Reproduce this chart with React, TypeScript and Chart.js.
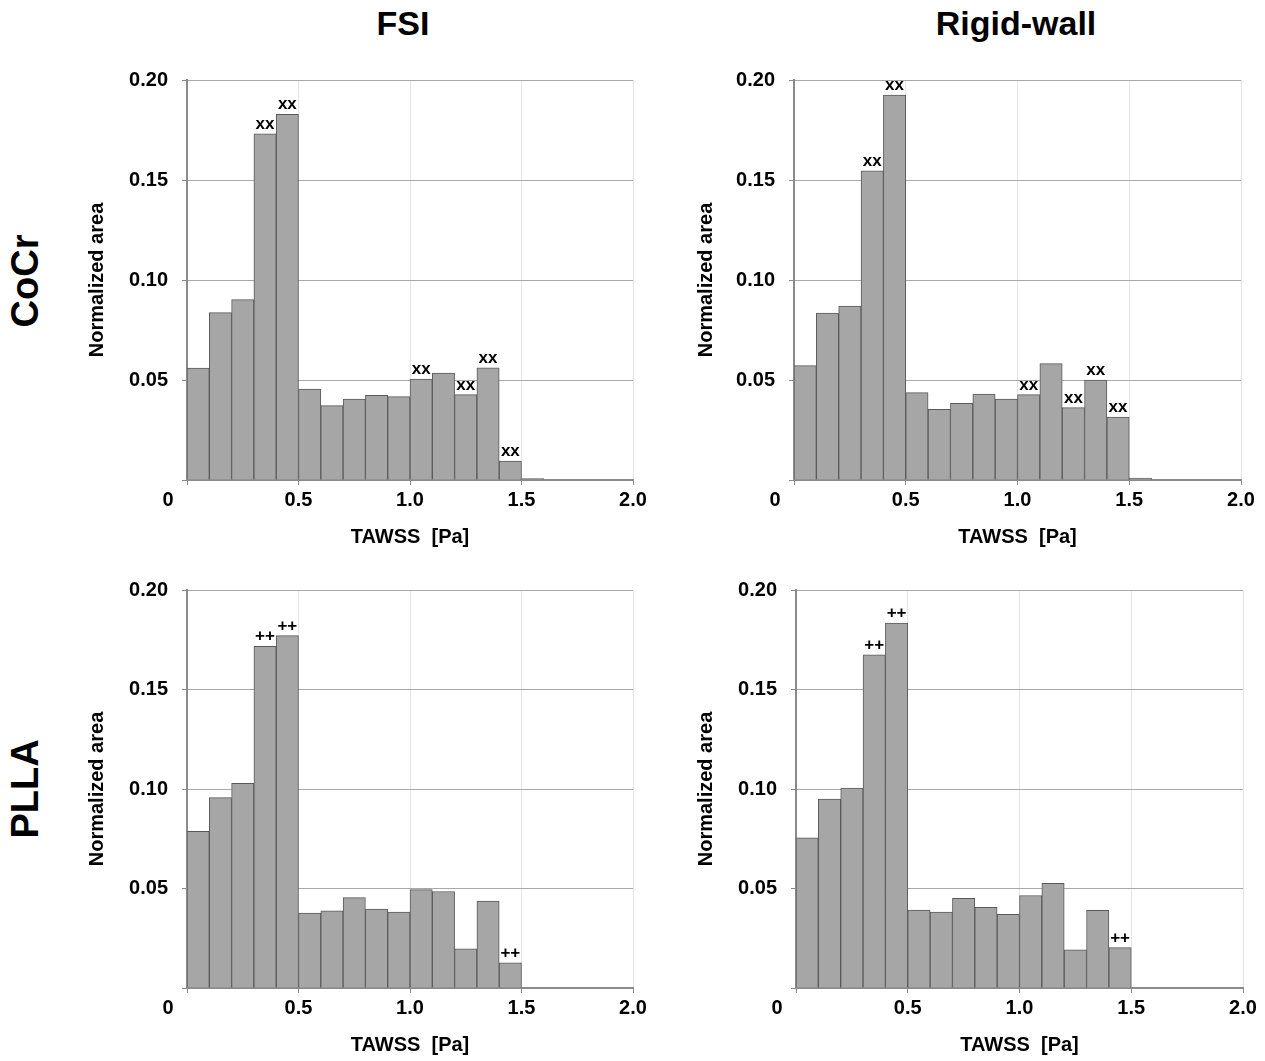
import React, { useEffect, useRef } from "react";
import { Chart, registerables } from "chart.js";

Chart.register(...registerables);

const FONT = '"Liberation Sans", Arial, Helvetica, sans-serif';
Chart.defaults.font.family = FONT;

// ---- data ----
const BIN_CENTERS = [0.05, 0.15, 0.25, 0.35, 0.45, 0.55, 0.65, 0.75, 0.85, 0.95, 1.05, 1.15, 1.25, 1.35, 1.45, 1.55, 1.65, 1.75, 1.85, 1.95];

const FSI_COCR = [0.0559, 0.0837, 0.0902, 0.1731, 0.1828, 0.0455, 0.0372, 0.0405, 0.0423, 0.0417, 0.0505, 0.0534, 0.0427, 0.0561, 0.0095, 0.0007, 0, 0, 0, 0];
const RIGID_COCR = [0.0572, 0.0835, 0.087, 0.1546, 0.1925, 0.0437, 0.0353, 0.0383, 0.043, 0.0405, 0.0427, 0.0582, 0.0362, 0.05, 0.0315, 0.001, 0, 0, 0, 0];
const FSI_PLLA = [0.0787, 0.0957, 0.1029, 0.1717, 0.1771, 0.0377, 0.0388, 0.0454, 0.0397, 0.0382, 0.0494, 0.0485, 0.0197, 0.0437, 0.0126, 0, 0, 0, 0, 0];
const RIGID_PLLA = [0.0755, 0.0949, 0.1004, 0.1674, 0.1834, 0.0392, 0.0382, 0.045, 0.0405, 0.037, 0.0465, 0.0526, 0.0192, 0.039, 0.0203, 0, 0, 0, 0, 0];

// indices of bars carrying a significance mark
const MARKS_FSI_COCR = [3, 4, 10, 12, 13, 14];
const MARKS_RIGID_COCR = [3, 4, 10, 12, 13, 14];
const MARKS_FSI_PLLA = [3, 4, 14];
const MARKS_RIGID_PLLA = [3, 4, 14];

const X_TICKS = [0, 0.5, 1.0, 1.5, 2.0];
const X_TICK_LABELS = ["0", "0.5", "1.0", "1.5", "2.0"];
const Y_TICKS = [0, 0.05, 0.1, 0.15, 0.2];
const Y_TICK_LABELS = ["", "0.05", "0.10", "0.15", "0.20"];

const COL_TITLES = ["FSI", "Rigid-wall"];
const ROW_TITLES = ["CoCr", "PLLA"];
const X_TITLE = "TAWSS  [Pa]";
const Y_TITLE = "Normalized area";

// ---- layout ----
type Geom = { axisX: number; right: number; top: number; bottom: number; yTitleX: number; xTitleY: number };

const G_TL: Geom = { axisX: 187, right: 633, top: 80, bottom: 480, yTitleX: 97, xTitleY: 537 };
const G_TR: Geom = { axisX: 794, right: 1241, top: 80, bottom: 480, yTitleX: 706, xTitleY: 537 };
const G_BL: Geom = { axisX: 187, right: 633, top: 590, bottom: 988, yTitleX: 97, xTitleY: 1045 };
const G_BR: Geom = { axisX: 796, right: 1243, top: 590, bottom: 988, yTitleX: 706, xTitleY: 1045 };

function Panel({ g, values, marks, symbol }: { g: Geom; values: number[]; marks: number[]; symbol: string }) {
  const ref = useRef<HTMLCanvasElement | null>(null);

  const canvasLeft = g.axisX - 110;
  const canvasTop = g.top - 30;
  const padRight = 22;
  const canvasW = g.right + padRight - canvasLeft;
  const canvasH = g.xTitleY + 12 + 6 - canvasTop;
  const padLeft = g.yTitleX - 12 - canvasLeft;
  const yWidth = g.axisX - canvasLeft - padLeft;
  const xHeight = g.xTitleY + 12 - g.bottom;

  useEffect(() => {
    if (!ref.current) return;
    const overlay = {
      id: "overlay",
      afterDatasetsDraw(chart: any) {
        const ctx = chart.ctx;
        const meta = chart.getDatasetMeta(0);
        ctx.save();
        ctx.fillStyle = "#000";
        ctx.textAlign = "center";
        ctx.textBaseline = "alphabetic";
        ctx.font = `bold 17px ${FONT}`;
        marks.forEach((i) => {
          const el = meta.data[i];
          if (el) ctx.fillText(symbol, el.x, el.y - 5);
        });
        const xs = chart.scales.x;
        ctx.font = `bold 20px ${FONT}`;
        ctx.textBaseline = "middle";
        ctx.fillText(X_TICK_LABELS[0], xs.getPixelForValue(X_TICKS[0]) - 19, xs.top + 5 + 3 + 12);
        ctx.restore();
      },
    };

    const chart = new Chart(ref.current, {
      type: "bar",
      data: {
        datasets: [
          {
            data: BIN_CENTERS.map((x, i) => ({ x, y: values[i] })),
            backgroundColor: "#a6a6a6",
            borderColor: "#5a5a5a",
            borderWidth: 1,
            barPercentage: 1,
            categoryPercentage: 1,
          },
        ],
      },
      options: {
        responsive: false,
        animation: false,
        devicePixelRatio: 1,
        layout: { padding: { left: padLeft, top: 30, right: padRight, bottom: 6 } },
        plugins: { legend: { display: false }, tooltip: { enabled: false } },
        scales: {
          x: {
            type: "linear",
            min: 0,
            max: 2,
            offset: false,
            afterBuildTicks: (s: any) => {
              s.ticks = X_TICKS.map((v) => ({ value: v }));
            },
            afterFit: (s: any) => {
              s.height = xHeight;
            },
            ticks: {
              autoSkip: false,
              maxRotation: 0,
              padding: 3,
              color: "#000",
              font: { size: 20, weight: "bold", lineHeight: 1.2 },
              callback: (_v: any, i: number) => (i === 0 ? "" : X_TICK_LABELS[i]),
            },
            grid: { offset: false, color: "#e4e4e4", tickColor: "#8a8a8a", tickLength: 5, lineWidth: 1 },
            border: { display: true, color: "#8a8a8a", width: 2 },
            title: {
              display: true,
              text: X_TITLE,
              color: "#000",
              padding: 0,
              font: { size: 20, weight: "bold", lineHeight: 1.2 },
            },
          },
          y: {
            type: "linear",
            min: 0,
            max: 0.2,
            afterBuildTicks: (s: any) => {
              s.ticks = Y_TICKS.map((v) => ({ value: v }));
            },
            afterFit: (s: any) => {
              s.width = yWidth;
            },
            ticks: {
              padding: 14,
              color: "#000",
              font: { size: 20, weight: "bold", lineHeight: 1.2 },
              callback: (_v: any, i: number) => Y_TICK_LABELS[i],
            },
            grid: { color: "#a8a8a8", tickColor: "#8a8a8a", tickLength: 5, lineWidth: 1 },
            border: { display: true, color: "#8a8a8a", width: 2 },
            title: {
              display: true,
              text: Y_TITLE,
              color: "#000",
              padding: 0,
              font: { size: 20, weight: "bold", lineHeight: 1.2 },
            },
          },
        },
      } as any,
      plugins: [overlay],
    });
    return () => chart.destroy();
  }, []);

  return (
    <canvas
      ref={ref}
      width={canvasW}
      height={canvasH}
      style={{ position: "absolute", left: canvasLeft, top: canvasTop, width: canvasW, height: canvasH }}
    />
  );
}

const titleStyle: React.CSSProperties = {
  position: "absolute",
  fontFamily: FONT,
  fontWeight: "bold",
  color: "#000",
  whiteSpace: "nowrap",
  lineHeight: 1,
};

export default function App() {
  return (
    <div
      style={{
        position: "absolute",
        left: 0,
        top: 0,
        width: 1265,
        height: 1061,
        overflow: "hidden",
        background: "#fff",
      }}
    >
      <div style={{ ...titleStyle, fontSize: 34, left: 403, top: 6, transform: "translateX(-50%)" }}>{COL_TITLES[0]}</div>
      <div style={{ ...titleStyle, fontSize: 34, left: 1016, top: 6, transform: "translateX(-50%)" }}>{COL_TITLES[1]}</div>
      <div style={{ ...titleStyle, fontSize: 38, left: 25, top: 281, transform: "translate(-50%, -50%) rotate(-90deg)" }}>{ROW_TITLES[0]}</div>
      <div style={{ ...titleStyle, fontSize: 38, left: 25, top: 789, transform: "translate(-50%, -50%) rotate(-90deg)" }}>{ROW_TITLES[1]}</div>
      <Panel g={G_TL} values={FSI_COCR} marks={MARKS_FSI_COCR} symbol="xx" />
      <Panel g={G_TR} values={RIGID_COCR} marks={MARKS_RIGID_COCR} symbol="xx" />
      <Panel g={G_BL} values={FSI_PLLA} marks={MARKS_FSI_PLLA} symbol="++" />
      <Panel g={G_BR} values={RIGID_PLLA} marks={MARKS_RIGID_PLLA} symbol="++" />
    </div>
  );
}
